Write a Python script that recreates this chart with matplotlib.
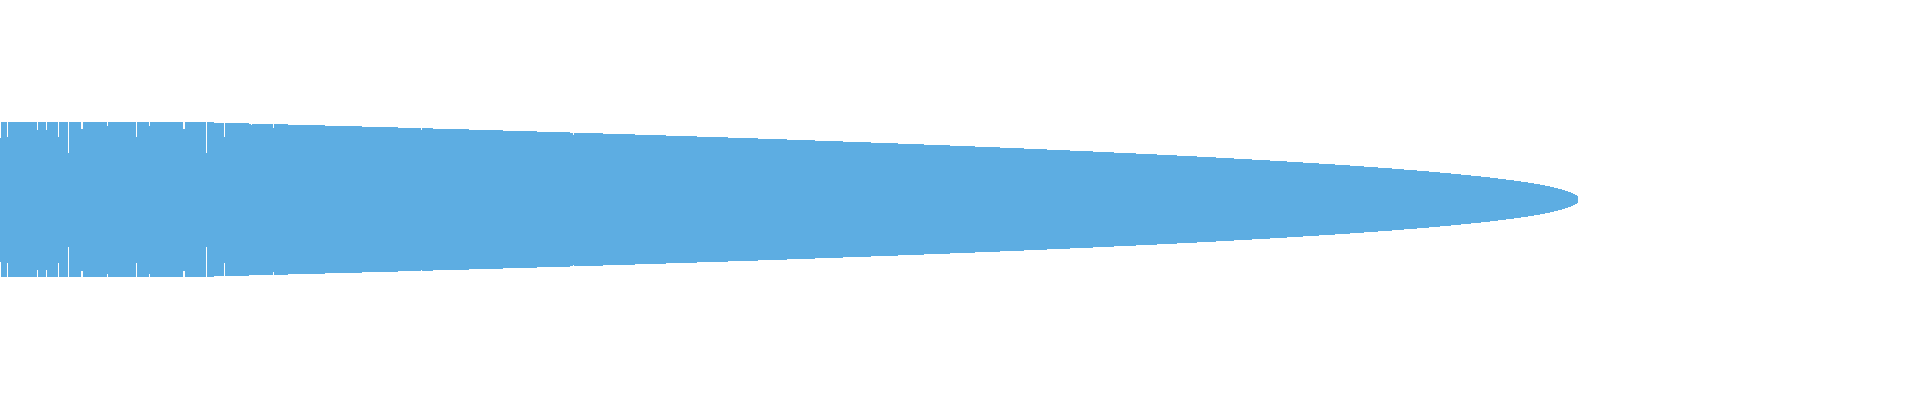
import numpy as np
import matplotlib
matplotlib.use("Agg")
import matplotlib.pyplot as plt

# step profile of the mirrored shape: position where each level starts, and half-height
step_x = [0, 214, 249, 288, 325, 362, 398, 433, 469, 503, 537, 570, 603, 635,
          666, 697, 728, 758, 787, 815, 843, 871, 898, 924, 950, 975, 1000,
          1024, 1047, 1070, 1093, 1114, 1136, 1157, 1177, 1197, 1216, 1234,
          1252, 1270, 1287, 1303, 1319, 1335, 1350, 1364, 1378, 1392, 1404,
          1417, 1429, 1440, 1451, 1461, 1471, 1481, 1490, 1498, 1506, 1514,
          1521, 1528, 1534, 1540, 1545, 1550, 1554, 1558, 1562, 1565, 1568,
          1571, 1573, 1575, 1577, 1578]
step_half = [77.5, 76.5, 75.5, 74.5, 73.5, 72.5, 71.5, 70.5, 69.5, 68.5, 67.5,
             66.5, 65.5, 64.5, 63.5, 62.5, 61.5, 60.5, 59.5, 58.5, 57.5, 56.5,
             55.5, 54.5, 53.5, 52.5, 51.5, 50.5, 49.5, 48.5, 47.5, 46.5, 45.5,
             44.5, 43.5, 42.5, 41.5, 40.5, 39.5, 38.5, 37.5, 36.5, 35.5, 34.5,
             33.5, 32.5, 31.5, 30.5, 29.5, 28.5, 27.5, 26.5, 25.5, 24.5, 23.5,
             22.5, 21.5, 20.5, 19.5, 18.5, 17.5, 16.5, 15.5, 14.5, 13.5, 12.5,
             11.5, 10.5, 9.5, 8.5, 7.5, 6.5, 5.5, 4.5, 3.5, 0.0]

# single items that fall short of their neighbours (position, width, half-height)
dip_x = [0, 7, 37, 46, 58, 68, 81, 107, 136, 149, 183, 206, 224, 251, 273, 421, 573]
dip_w = [1, 1, 1, 1, 1, 1, 1.7, 1, 1, 1, 1.7, 1, 1, 1, 1, 1, 1]
dip_half = [62.0, 63.0, 70.0, 70.0, 63.0, 47.0, 71.0, 74.0, 63.0, 74.0, 71.0,
            47.0, 63.0, 75.0, 72.0, 70.0, 65.0]

color = "#5dade2"


def level_at(x):
    i = np.searchsorted(step_x, x, side="right") - 1
    return step_half[max(i, 0)]


pts = sorted(set(step_x) | set(dip_x) | {d + w for d, w in zip(dip_x, dip_w)})
xs, hs = [], []
for p in pts:
    h = level_at(p)
    for d, w, dh in zip(dip_x, dip_w, dip_half):
        if d <= p < d + w:
            h = min(h, dh)
    xs.append(p)
    hs.append(h)
xs = np.array(xs, dtype=float)
hs = np.array(hs)

fig = plt.figure(figsize=(19.2, 4), dpi=100)
ax = fig.add_axes([0, 0, 1, 1])
ax.fill_between(xs, -hs, hs, step="post", color=color, linewidth=0)
ax.set_xlim(0, 1920)
ax.set_ylim(-200.5, 199.5)
ax.axis("off")
fig.savefig("out.png", dpi=100, facecolor="white")
